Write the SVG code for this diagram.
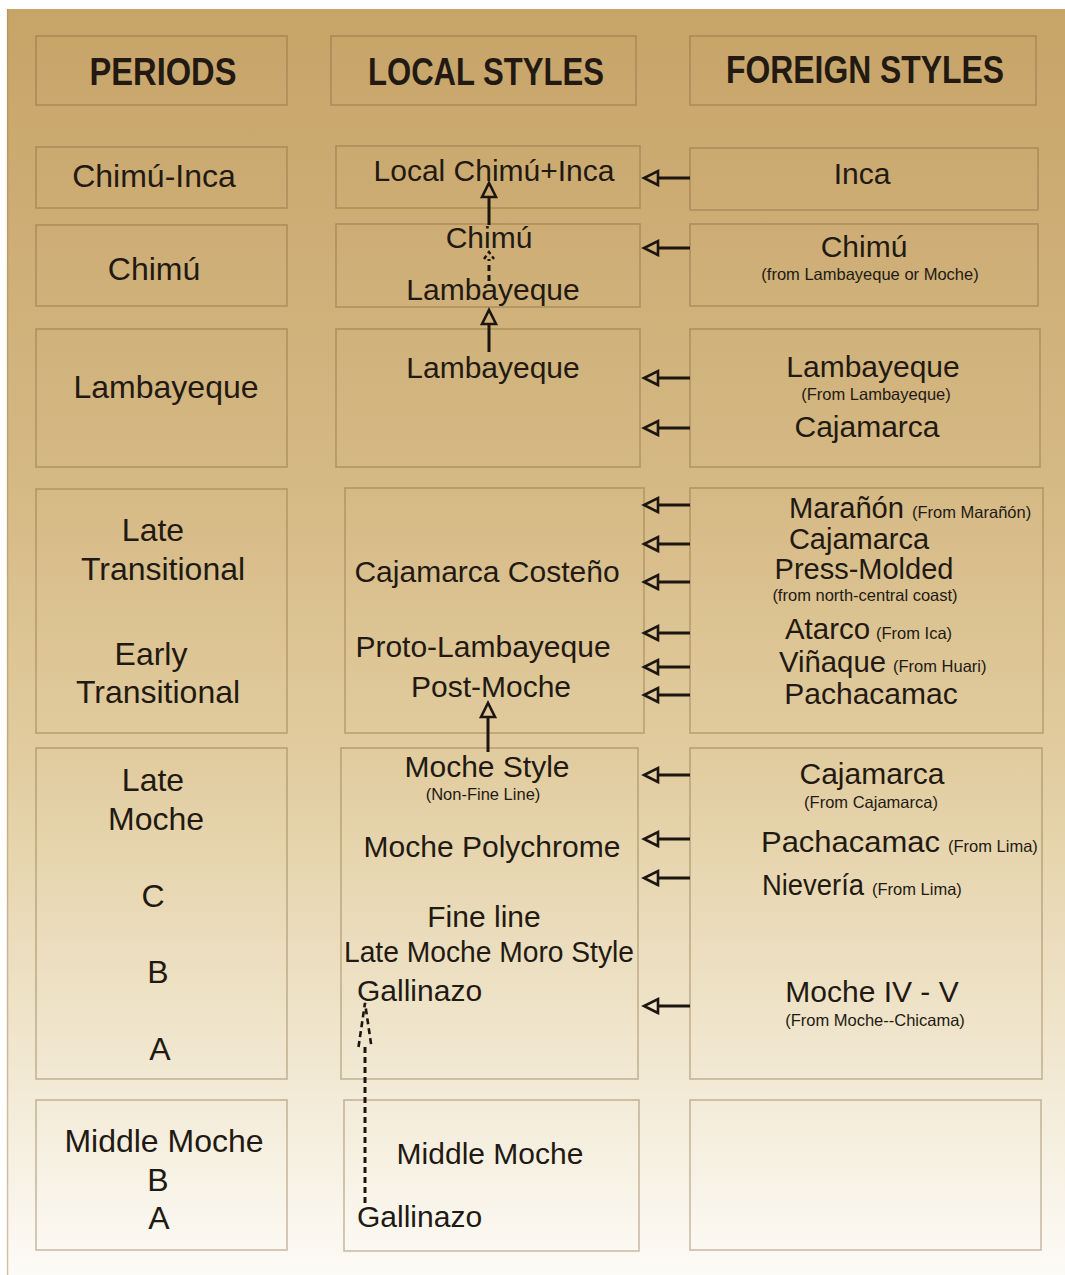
<svg xmlns="http://www.w3.org/2000/svg" width="1065" height="1275" viewBox="0 0 1065 1275">
<defs>
<linearGradient id="bg" x1="0" y1="0" x2="0" y2="1">
<stop offset="0" stop-color="#c7a468"/>
<stop offset="0.35" stop-color="#d4b782"/>
<stop offset="0.6" stop-color="#e2cda0"/>
<stop offset="0.8" stop-color="#efe4ca"/>
<stop offset="1" stop-color="#fdfbf7"/>
</linearGradient>
<marker id="ah" markerUnits="userSpaceOnUse" viewBox="-3 -10 20 20" markerWidth="20" markerHeight="20" refX="0" refY="0" orient="auto" overflow="visible">
<path d="M0,-7 L14,0 L0,7 Z" fill="none" stroke="#1c1510" stroke-width="2.6" stroke-linejoin="miter"/>
</marker>
<marker id="ahd" markerUnits="userSpaceOnUse" viewBox="-3 -10 50 20" markerWidth="50" markerHeight="20" refX="0" refY="0" orient="auto" overflow="visible">
<path d="M0,-6.5 L44,0 L0,6.5" fill="none" stroke="#1c1510" stroke-width="2.6" stroke-dasharray="6 4"/>
</marker>
<marker id="ahs" markerUnits="userSpaceOnUse" viewBox="-3 -10 16 20" markerWidth="16" markerHeight="20" refX="0" refY="0" orient="auto" overflow="visible">
<path d="M0,-5 L7,0 L0,5" fill="none" stroke="#1c1510" stroke-width="2.4" stroke-dasharray="4 3"/>
</marker>
</defs>
<style>
.box{fill:none;stroke:#7d6238;stroke-opacity:0.4;stroke-width:1.6}
text{font-family:"Liberation Sans",Arial,sans-serif;fill:#221a12}
.h{font-weight:bold;font-size:38px;text-anchor:middle}
.p{font-size:32px;text-anchor:middle}
.t{font-size:30px;text-anchor:middle}
.ts{font-size:30px}
.s{font-size:16.5px;text-anchor:middle}
.ss{font-size:16.5px}
.arr{stroke:#1c1510;stroke-width:3;fill:none}
.dash{stroke:#1c1510;stroke-width:3;fill:none;stroke-dasharray:6 4}
</style>
<rect x="0" y="0" width="1065" height="1275" fill="#ffffff"/>
<rect x="7" y="9" width="1058" height="1266" fill="url(#bg)"/>
<line x1="7.5" y1="9" x2="7.5" y2="1275" stroke="#a88a5a" stroke-opacity="0.5" stroke-width="1.5"/>

<g id="hdr-periods"><rect class="box" x="36" y="36" width="251" height="69"/><text class="h" x="163" y="85" textLength="147" lengthAdjust="spacingAndGlyphs">PERIODS</text></g>
<g id="hdr-local"><rect class="box" x="331" y="36" width="305" height="69"/><text class="h" x="486" y="85" textLength="236" lengthAdjust="spacingAndGlyphs">LOCAL STYLES</text></g>
<g id="hdr-foreign"><rect class="box" x="690" y="36" width="346" height="69"/><text class="h" x="865" y="83" textLength="278" lengthAdjust="spacingAndGlyphs">FOREIGN STYLES</text></g>

<g id="p-chimu-inca"><rect class="box" x="36" y="147" width="251" height="61"/><text class="p" x="154" y="187">Chimú-Inca</text></g>
<g id="p-chimu"><rect class="box" x="36" y="225" width="251" height="81"/><text class="p" x="154" y="280">Chimú</text></g>
<g id="p-lambayeque"><rect class="box" x="36" y="329" width="251" height="138"/><text class="p" x="166" y="398">Lambayeque</text></g>
<g id="p-transitional"><rect class="box" x="36" y="489" width="251" height="244"/>
<text class="p" x="153" y="541">Late</text><text class="p" x="163" y="580">Transitional</text>
<text class="p" x="151" y="665">Early</text><text class="p" x="158" y="703">Transitional</text></g>
<g id="p-late-moche"><rect class="box" x="36" y="748" width="251" height="331"/>
<text class="p" x="153" y="791">Late</text><text class="p" x="156" y="830">Moche</text>
<text class="p" x="153" y="907">C</text><text class="p" x="158" y="983">B</text><text class="p" x="160" y="1060">A</text></g>
<g id="p-middle-moche"><rect class="box" x="36" y="1100" width="251" height="150"/>
<text class="p" x="164" y="1152">Middle Moche</text><text class="p" x="158" y="1191">B</text><text class="p" x="159" y="1229">A</text></g>

<g id="l-chimu-inca"><rect class="box" x="336" y="146" width="304" height="62"/><text class="t" x="494" y="181">Local Chimú+Inca</text></g>
<g id="l-chimu"><rect class="box" x="336" y="224" width="304" height="83"/><text class="t" x="489" y="248">Chimú</text><text class="t" x="493" y="300">Lambayeque</text></g>
<g id="l-lambayeque"><rect class="box" x="336" y="329" width="304" height="138"/><text class="t" x="493" y="378">Lambayeque</text></g>
<g id="l-transitional"><rect class="box" x="345" y="488" width="299" height="245"/>
<text class="t" x="487" y="582">Cajamarca Costeño</text>
<text class="t" x="483" y="657">Proto-Lambayeque</text>
<text class="t" x="491" y="697">Post-Moche</text></g>
<g id="l-late-moche"><rect class="box" x="341" y="748" width="297" height="331"/>
<text class="t" x="487" y="777">Moche Style</text><text class="s" x="483" y="800">(Non-Fine Line)</text>
<text class="t" x="492" y="857">Moche Polychrome</text>
<text class="t" x="484" y="927">Fine line</text>
<text class="t" x="489" y="962" textLength="290" lengthAdjust="spacingAndGlyphs">Late Moche Moro Style</text>
<text class="ts" x="357" y="1001">Gallinazo</text></g>
<g id="l-middle-moche"><rect class="box" x="344" y="1100" width="295" height="151"/>
<text class="t" x="490" y="1164">Middle Moche</text>
<text class="ts" x="357" y="1227">Gallinazo</text></g>

<g id="f-inca"><rect class="box" x="690" y="148" width="348" height="62"/><text class="t" x="862" y="184">Inca</text></g>
<g id="f-chimu"><rect class="box" x="690" y="224" width="348" height="82"/><text class="t" x="864" y="257">Chimú</text><text class="s" x="870" y="280">(from Lambayeque or Moche)</text></g>
<g id="f-lambayeque"><rect class="box" x="690" y="329" width="350" height="138"/>
<text class="t" x="873" y="377">Lambayeque</text><text class="s" x="876" y="400">(From Lambayeque)</text>
<text class="t" x="867" y="437">Cajamarca</text></g>
<g id="f-transitional"><rect class="box" x="690" y="488" width="353" height="245"/>
<text class="ts" x="789" y="518" textLength="115" lengthAdjust="spacingAndGlyphs">Marañón</text><text class="ss" x="912" y="518">(From Marañón)</text>
<text class="t" x="859" y="549" style="font-size:29px">Cajamarca</text>
<text class="t" x="864" y="579" style="font-size:29px">Press-Molded</text>
<text class="s" x="865" y="601">(from north-central coast)</text>
<text class="ts" x="785" y="639" textLength="85" lengthAdjust="spacingAndGlyphs">Atarco</text><text class="ss" x="876" y="639">(From Ica)</text>
<text class="ts" x="779" y="672" textLength="107" lengthAdjust="spacingAndGlyphs">Viñaque</text><text class="ss" x="893" y="672">(From Huari)</text>
<text class="t" x="871" y="704">Pachacamac</text></g>
<g id="f-late-moche"><rect class="box" x="690" y="748" width="352" height="331"/>
<text class="t" x="872" y="784">Cajamarca</text><text class="s" x="871" y="808">(From Cajamarca)</text>
<text class="ts" x="761" y="852" textLength="179" lengthAdjust="spacingAndGlyphs">Pachacamac</text><text class="ss" x="948" y="852">(From Lima)</text>
<text class="ts" x="762" y="895" textLength="102" lengthAdjust="spacingAndGlyphs">Nievería</text><text class="ss" x="872" y="895">(From Lima)</text>
<text class="t" x="872" y="1002">Moche IV - V</text><text class="s" x="875" y="1026">(From Moche--Chicama)</text></g>
<g id="f-middle-moche"><rect class="box" x="690" y="1100" width="351" height="150"/></g>

<g id="connectors">
<line class="arr" x1="690" y1="178" x2="658" y2="178" marker-end="url(#ah)"/>
<line class="arr" x1="690" y1="248" x2="658" y2="248" marker-end="url(#ah)"/>
<line class="arr" x1="690" y1="378" x2="658" y2="378" marker-end="url(#ah)"/>
<line class="arr" x1="690" y1="428" x2="658" y2="428" marker-end="url(#ah)"/>
<line class="arr" x1="690" y1="505" x2="658" y2="505" marker-end="url(#ah)"/>
<line class="arr" x1="690" y1="544" x2="658" y2="544" marker-end="url(#ah)"/>
<line class="arr" x1="690" y1="582" x2="658" y2="582" marker-end="url(#ah)"/>
<line class="arr" x1="690" y1="633" x2="658" y2="633" marker-end="url(#ah)"/>
<line class="arr" x1="690" y1="667" x2="658" y2="667" marker-end="url(#ah)"/>
<line class="arr" x1="690" y1="695" x2="658" y2="695" marker-end="url(#ah)"/>
<line class="arr" x1="690" y1="775" x2="658" y2="775" marker-end="url(#ah)"/>
<line class="arr" x1="690" y1="839" x2="658" y2="839" marker-end="url(#ah)"/>
<line class="arr" x1="690" y1="878" x2="658" y2="878" marker-end="url(#ah)"/>
<line class="arr" x1="690" y1="1006" x2="658" y2="1006" marker-end="url(#ah)"/>
<line class="arr" x1="489" y1="225" x2="489" y2="197" marker-end="url(#ah)"/>
<line class="arr" x1="489" y1="352" x2="489" y2="324" marker-end="url(#ah)"/>
<line class="arr" x1="488" y1="752" x2="488" y2="717" marker-end="url(#ah)"/>
<line class="dash" x1="489" y1="281" x2="489" y2="259" marker-end="url(#ahs)"/>
<line class="dash" x1="365" y1="1203" x2="365" y2="1047" marker-end="url(#ahd)"/>
</g>
</svg>
